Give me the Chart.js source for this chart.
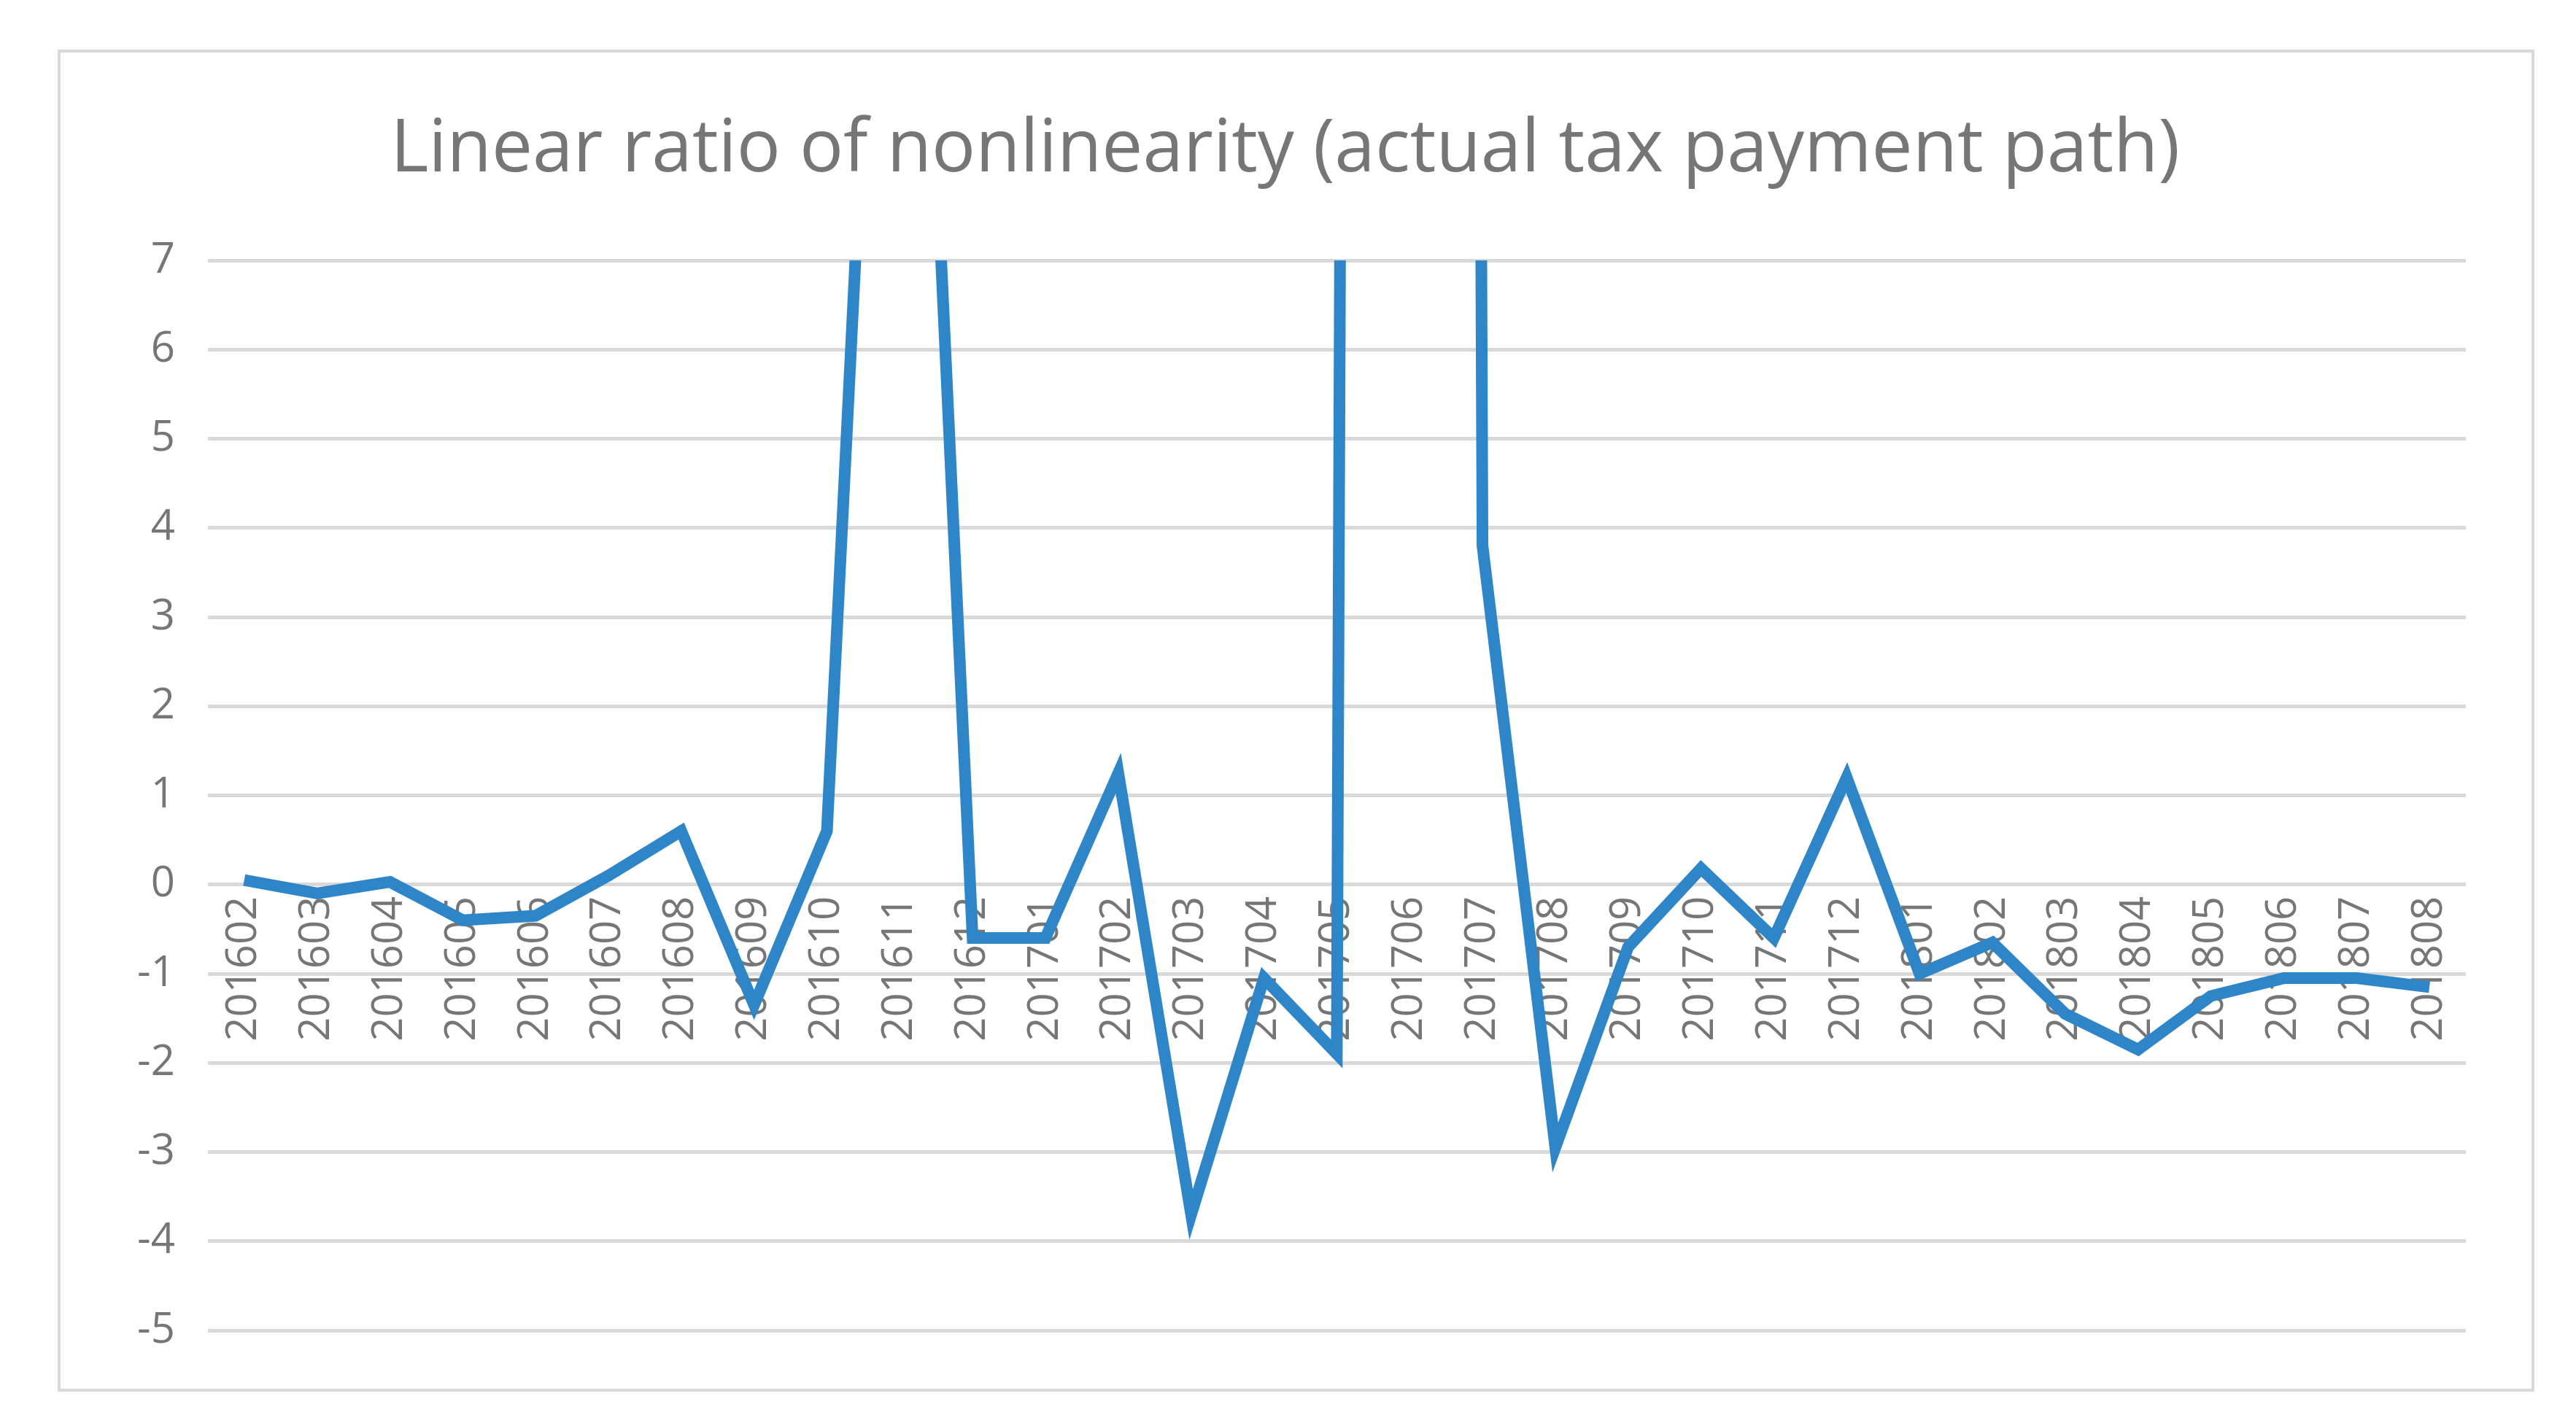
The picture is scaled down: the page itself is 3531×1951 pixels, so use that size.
<!DOCTYPE html>
<html>
<head>
<meta charset="utf-8">
<script src="https://cdn.jsdelivr.net/npm/chart.js@4.4.0/dist/chart.umd.min.js"></script>
<style>
  html, body { margin: 0; padding: 0; background: #fff; }
  #wrap { position: absolute; left: 79px; top: 68px; width: 3395px; height: 1840px; border: 4px solid #d9d9d9; box-sizing: border-box; }
  canvas { display: block; }
</style>
</head>
<body>
<div id="wrap"><canvas id="c"></canvas></div>
<script>
const categories = ['201602','201603','201604','201605','201606','201607','201608','201609','201610','201611',
  '201612','201701','201702','201703','201704','201705','201706','201707','201708','201709','201710',
  '201711','201712','201801','201802','201803','201804','201805','201806','201807','201808'];
const ratioValues = [0.05, -0.1, 0.03, -0.4, -0.35, 0.1, 0.6, -1.35, 0.6, 17,
  -0.6, -0.6, 1.25, -3.7, -1.05, -1.9, 200, 3.8, -2.95, -0.7, 0.18,
  -0.6, 1.2, -1.0, -0.65, -1.45, -1.85, -1.25, -1.05, -1.05, -1.15];
const yTicks = { min: -5, max: 7, step: 1 };

const grey = '#767676';
new Chart(document.getElementById('c'), {
  type: 'line',
  data: {
    labels: categories,
    datasets: [{
      data: ratioValues,
      borderColor: '#2e86c8',
      borderWidth: 16,
      pointRadius: 0,
      tension: 0,
      fill: false
    }]
  },
  options: {
    responsive: true,
    maintainAspectRatio: false,
    animation: false,
    layout: { padding: { left: 60, right: 90, top: 20, bottom: 80 } },
    plugins: {
      legend: { display: false },
      tooltip: { enabled: false },
      title: {
        display: true,
        text: 'Linear ratio of nonlinearity (actual tax payment path)',
        color: grey,
        font: { family: "'Open Sans', sans-serif", size: 100, weight: 'normal' },
        padding: { top: 55, bottom: 90 }
      }
    },
    scales: {
      x: {
        position: { y: 0 },
        offset: true,
        grid: { display: false },
        border: { display: false },
        ticks: {
          color: grey,
          minRotation: 90,
          maxRotation: 90,
          autoSkip: false,
          padding: 8,
          font: { family: "'Open Sans', sans-serif", size: 58 }
        }
      },
      y: {
        min: yTicks.min,
        max: yTicks.max,
        grid: { color: '#d9d9d9', lineWidth: 5, drawTicks: false },
        border: { display: false },
        ticks: {
          stepSize: yTicks.step,
          color: grey,
          padding: 45,
          font: { family: "'Open Sans', sans-serif", size: 58 }
        }
      }
    }
  }
});
</script>
</body>
</html>
